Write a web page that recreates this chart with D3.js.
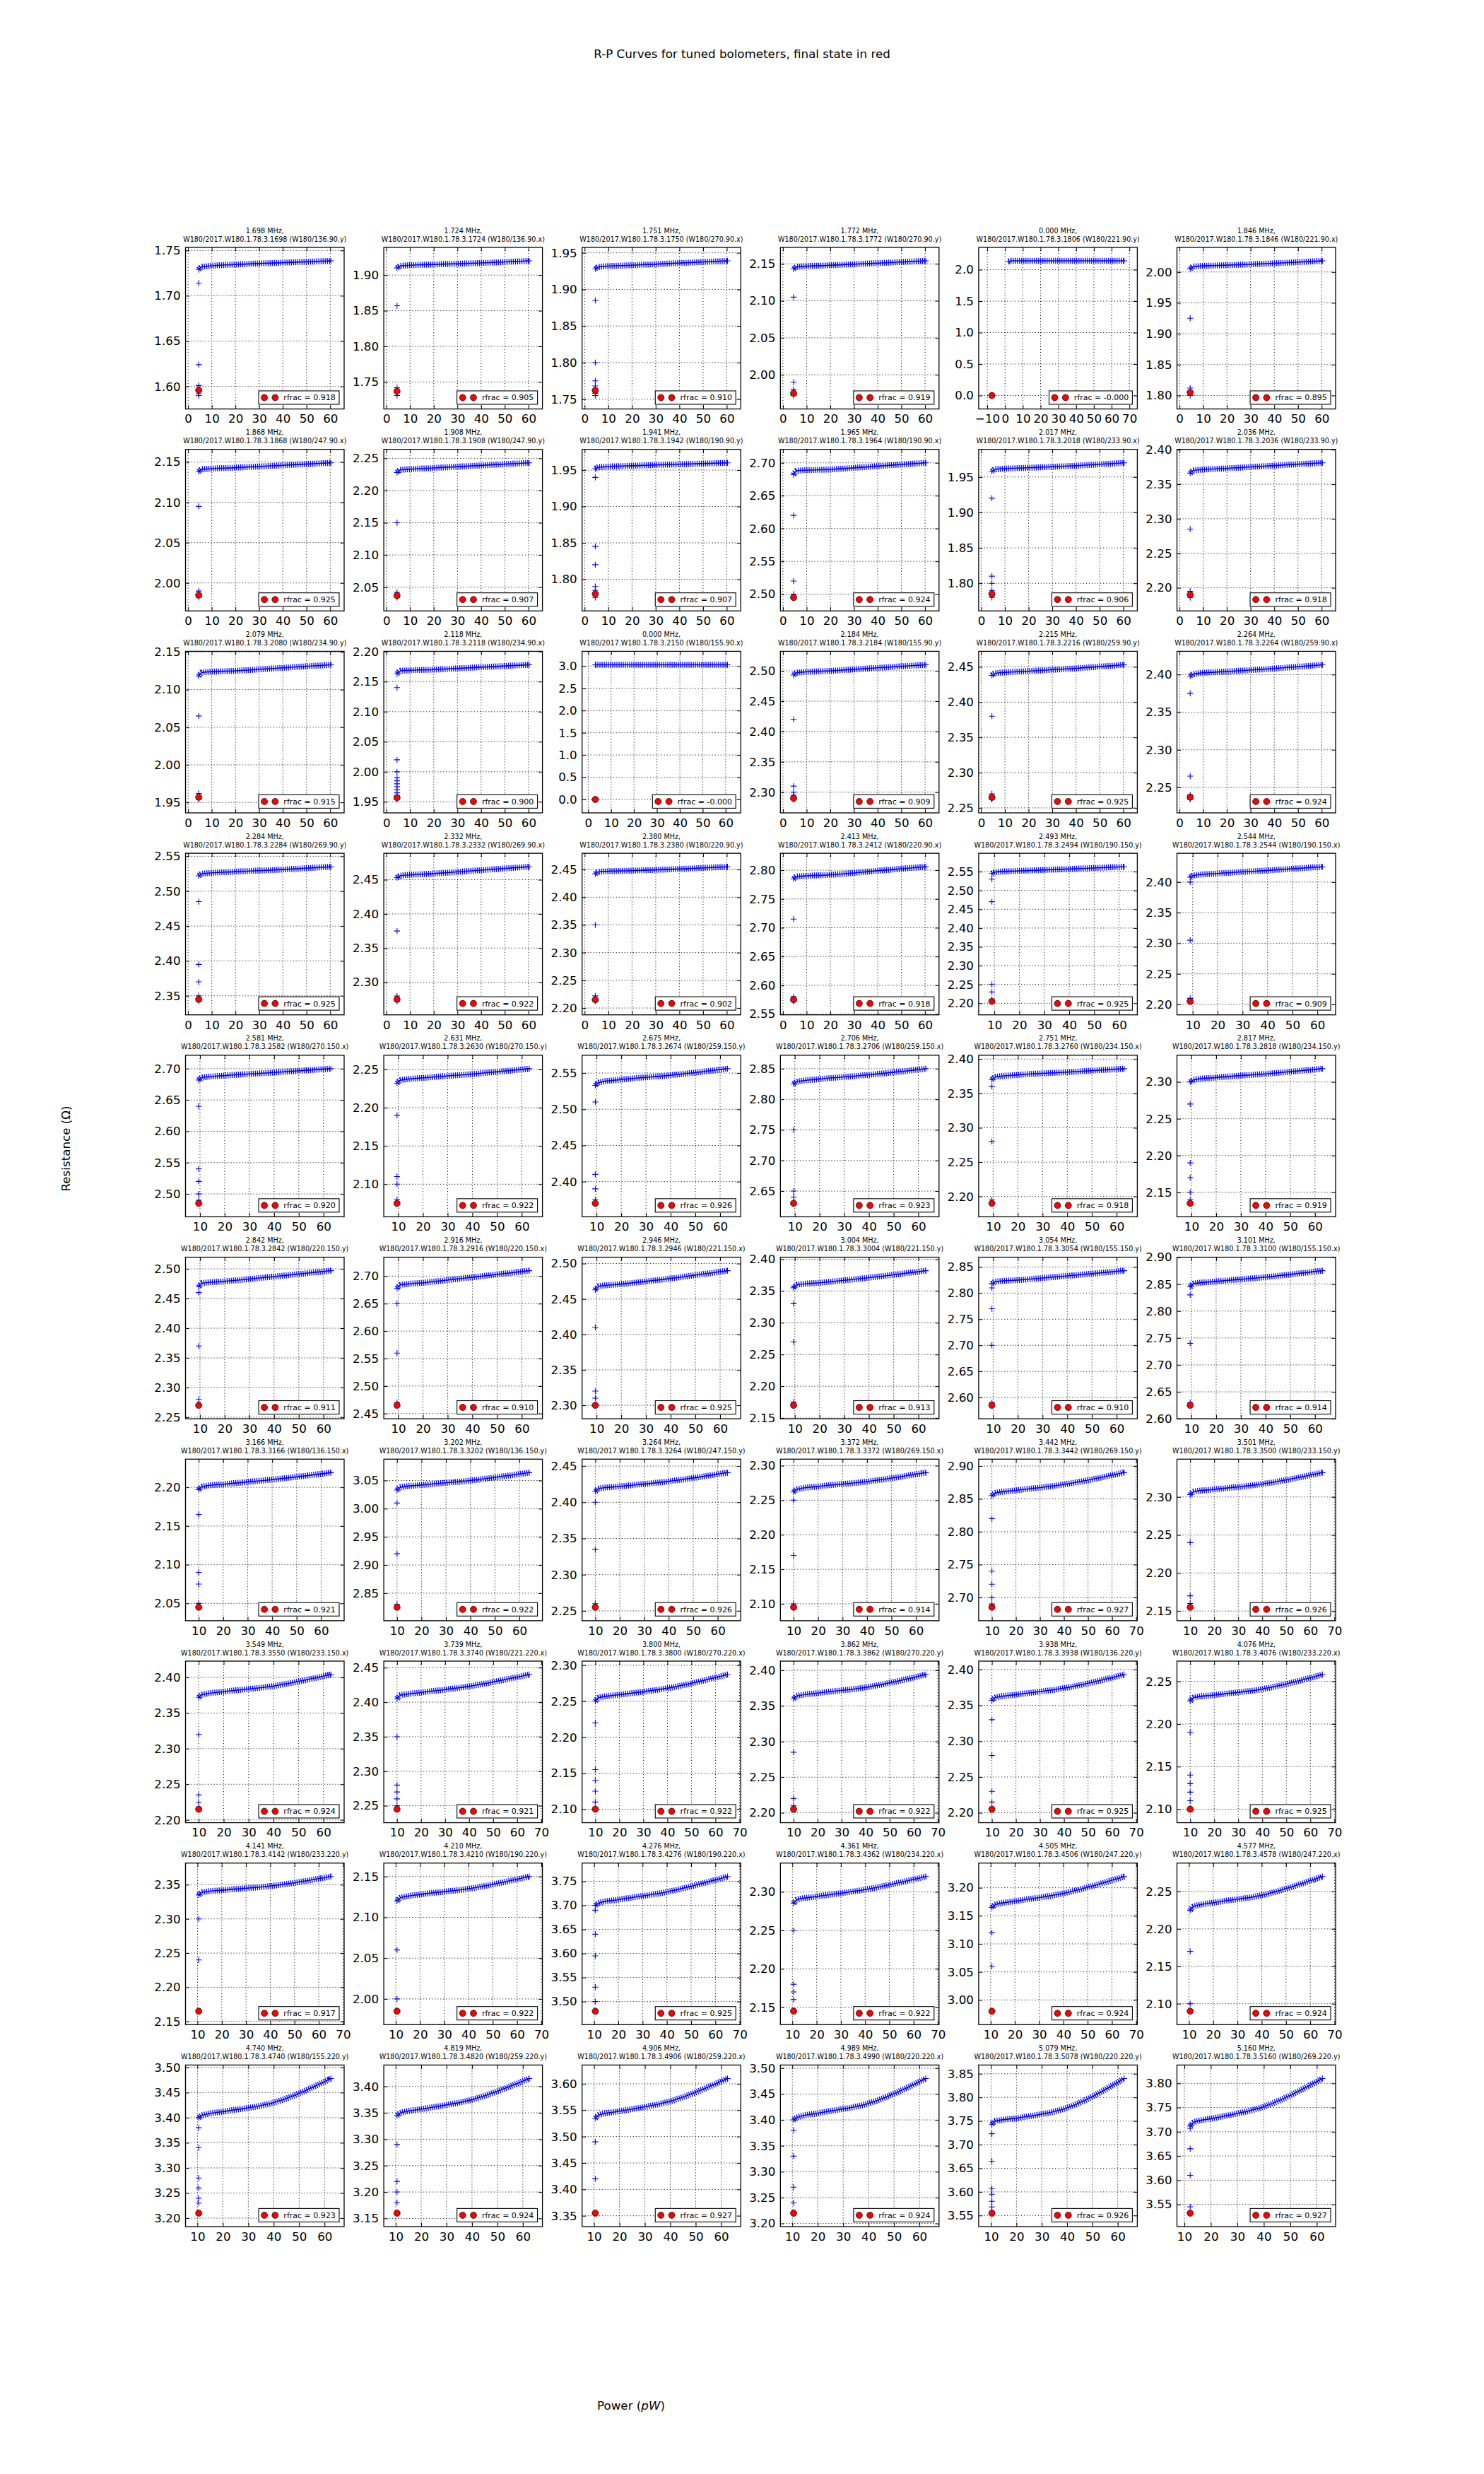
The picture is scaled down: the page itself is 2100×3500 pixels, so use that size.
<!DOCTYPE html>
<html><head><meta charset="utf-8">
<script src="https://cdn.jsdelivr.net/npm/d3@7"></script>
<style>
body{margin:0;background:#fff}
text{font-family:"DejaVu Sans",sans-serif}
</style></head>
<body><svg id="c" width="2100" height="3500" xmlns="http://www.w3.org/2000/svg"></svg>
<script>
// ---------------- data ----------------
const freqs = ["1.698","1.724","1.751","1.772","0.000","1.846",
"1.868","1.908","1.941","1.965","2.017","2.036",
"2.079","2.118","0.000","2.184","2.215","2.264",
"2.284","2.332","2.380","2.413","2.493","2.544",
"2.581","2.631","2.675","2.706","2.751","2.817",
"2.842","2.916","2.946","3.004","3.054","3.101",
"3.166","3.202","3.264","3.372","3.442","3.501",
"3.549","3.739","3.800","3.862","3.938","4.076",
"4.141","4.210","4.276","4.361","4.505","4.577",
"4.740","4.819","4.906","4.989","5.079","5.160"];

const chanIds = ["1698","1724","1750","1772","1806","1846",
"1868","1908","1942","1964","2018","2036",
"2080","2118","2150","2184","2216","2264",
"2284","2332","2380","2412","2494","2544",
"2582","2630","2674","2706","2760","2818",
"2842","2916","2946","3004","3054","3100",
"3166","3202","3264","3372","3442","3500",
"3550","3740","3800","3862","3938","4076",
"4142","4210","4276","4362","4506","4578",
"4740","4820","4906","4990","5078","5160"];

const pixels = ["136.90.y","136.90.x","270.90.x","270.90.y","221.90.y","221.90.x",
"247.90.x","247.90.y","190.90.y","190.90.x","233.90.x","233.90.y",
"234.90.y","234.90.x","155.90.x","155.90.y","259.90.y","259.90.x",
"269.90.y","269.90.x","220.90.y","220.90.x","190.150.y","190.150.x",
"270.150.x","270.150.y","259.150.y","259.150.x","234.150.x","234.150.y",
"220.150.y","220.150.x","221.150.x","221.150.y","155.150.y","155.150.x",
"136.150.x","136.150.y","247.150.y","269.150.x","269.150.y","233.150.y",
"233.150.x","221.220.x","270.220.x","270.220.y","136.220.y","233.220.x",
"233.220.y","190.220.y","190.220.x","234.220.x","247.220.y","247.220.x",
"155.220.y","259.220.y","259.220.x","220.220.x","220.220.y","269.220.y"];

const rfracs = ["0.918","0.905","0.910","0.919","-0.000","0.895",
"0.925","0.907","0.907","0.924","0.906","0.918",
"0.915","0.900","-0.000","0.909","0.925","0.924",
"0.925","0.922","0.902","0.918","0.925","0.909",
"0.920","0.922","0.926","0.923","0.918","0.919",
"0.911","0.910","0.925","0.913","0.910","0.914",
"0.921","0.922","0.926","0.914","0.927","0.926",
"0.924","0.921","0.922","0.922","0.925","0.925",
"0.917","0.922","0.925","0.922","0.924","0.924",
"0.923","0.924","0.927","0.924","0.926","0.927"];

// power (pW) where the transition points sit, and last power of the sweep
const pStart = [4.5,4.5,4.5,4.5,2.0,4.5,
4.5,4.5,4.5,4.5,4.5,4.5,
4.5,4.5,3.1,4.5,4.5,4.5,
4.5,4.5,4.5,4.5,9.0,9.0,
9.5,9.5,9.5,9.5,9.5,9.5,
9.5,9.5,9.5,9.5,9.5,9.5,
10,10,10,10,10,10,
10,10,10,10,10,10,
10.5,10.5,10.5,10.5,10.5,10.5,
10.5,10.5,10.5,10.5,10.3,12.2];
const pEnd = [60.3,60.3,60.3,60.3,67,60.3,
60.3,60.3,60.3,60.3,60.3,60.3,
60.3,60.3,60.8,60.3,60.3,60.3,
60.3,60.3,60.3,60.3,62,62,
63,63,63,63,63,63,
63,63,63,63,63,63,
64,64,64,64,65,65,
63,65,65,65,65,65,
65,65,65,65,65,65,
62.5,62.5,62.5,62.5,62.5,62.1];

// power of the final-state (red) point
const redP = [4.5,4.5,4.5,4.5,-7.4,4.5,
4.5,4.5,4.5,4.5,4.5,4.5,
4.5,4.5,3.1,4.5,4.5,4.5,
4.5,4.5,4.5,4.5,9.0,9.0,
9.5,9.5,9.5,9.5,9.5,9.5,
9.5,9.5,9.5,9.5,9.5,9.5,
10,10,10,10,10,10,
10,10,10,10,10,10,
10.5,10.5,10.5,10.5,10.5,10.5,
10.5,10.5,10.5,10.5,10.3,12.2];

// resistance of the final-state (red) point
const redR = [1.596,1.737,1.762,1.975,0.0,1.805,
1.985,2.037,1.780,2.495,1.785,2.190,
1.957,1.957,0.0,2.290,2.265,2.237,
2.345,2.275,2.215,2.575,2.205,2.205,
2.485,2.075,2.370,2.630,2.190,2.135,
2.270,2.465,2.300,2.170,2.585,2.625,
2.045,2.825,2.255,2.095,2.685,2.155,
2.215,2.245,2.100,2.205,2.205,2.100,
2.165,1.985,3.480,2.145,2.980,2.090,
3.210,3.160,3.355,3.220,3.555,3.532];

// sparse points in the transition (at pStart)
const lowR = [
[1.714,1.624,1.601,1.594,1.592,1.590],[1.857,1.742,1.735,1.731],[1.885,1.800,1.775,1.768,1.758,1.755],
[2.105,1.990,1.980,1.972],[],[1.925,1.812,1.800],
[2.095,1.990,1.982],[2.150,2.042,2.034],[1.940,1.845,1.820,1.790,1.785,1.775],
[2.620,2.520,2.500],[1.920,1.810,1.800,1.790,1.780],[2.285,2.195,2.186],
[2.065,1.962,1.954],[2.140,2.020,2.000,1.990,1.985,1.980,1.975,1.970,1.965,1.960,1.954],[],
[2.420,2.310,2.300,2.295,2.288],[2.380,2.270,2.262],[2.375,2.265,2.240,2.234],
[2.485,2.395,2.370,2.350,2.342],[2.375,2.280,2.272],[2.350,2.222,2.212],
[2.715,2.580,2.572],[2.530,2.470,2.250,2.230,2.210],[2.400,2.305,2.210],
[2.640,2.540,2.520,2.500,2.490],[2.190,2.110,2.100,2.080],[2.510,2.410,2.390,2.375],
[2.750,2.650,2.640],[2.360,2.280,2.195],[2.270,2.190,2.170,2.150,2.140],
[2.460,2.370,2.280],[2.650,2.560,2.470],[2.410,2.320,2.310],
[2.330,2.270,2.175],[2.810,2.770,2.700,2.590],[2.830,2.740,2.630],
[2.165,2.090,2.075,2.050],[3.010,2.920,2.830],[2.400,2.335,2.260],
[2.250,2.170,2.100],[2.820,2.740,2.720,2.700,2.690],[2.240,2.170,2.160],
[2.320,2.235,2.225],[2.350,2.280,2.270,2.260,2.250],[2.220,2.155,2.140,2.125,2.110],
[2.285,2.220,2.210],[2.330,2.280,2.230,2.215],[2.190,2.140,2.130,2.120,2.110],
[2.300,2.240],[2.060,2.000],[3.690,3.640,3.595,3.530,3.500],
[2.250,2.180,2.170,2.160],[3.120,3.060],[2.170,2.100],
[3.380,3.340,3.280,3.260,3.240,3.230],[3.290,3.220,3.200,3.180],[3.490,3.420],
[3.380,3.330,3.270,3.240],[3.723,3.665,3.607,3.595,3.580,3.568],[3.707,3.665,3.610,3.545]];

// resistance along the normal branch, read at P = [pStart, pStart+1.5, 20, 40, pEnd]
const curveR = [
[1.729,1.732,1.7345,1.7365,1.7385],[1.910,1.913,1.915,1.917,1.920],[1.928,1.931,1.933,1.936,1.939],
[2.143,2.146,2.148,2.151,2.154],[2.130,2.140,2.140,2.140,2.140],[2.005,2.009,2.011,2.014,2.018],
[2.138,2.141,2.143,2.146,2.149],[2.228,2.232,2.235,2.239,2.243],[1.952,1.954,1.956,1.958,1.960],
[2.682,2.688,2.690,2.695,2.700],[1.958,1.961,1.963,1.966,1.970],[2.366,2.370,2.373,2.377,2.381],
[2.118,2.123,2.125,2.129,2.133],[2.163,2.168,2.170,2.174,2.178],[3.030,3.030,3.030,3.030,3.030],
[2.493,2.497,2.500,2.505,2.510],[2.438,2.441,2.444,2.448,2.453],[2.398,2.401,2.404,2.408,2.413],
[2.522,2.525,2.528,2.531,2.535],[2.453,2.456,2.459,2.464,2.469],[2.442,2.446,2.448,2.451,2.455],
[2.785,2.789,2.792,2.799,2.806],[2.545,2.549,2.552,2.557,2.563],[2.408,2.411,2.414,2.419,2.425],
[2.682,2.686,2.689,2.694,2.700],[2.232,2.236,2.239,2.244,2.251],[2.533,2.537,2.541,2.547,2.556],
[2.825,2.829,2.833,2.840,2.850],[2.370,2.374,2.377,2.381,2.386],[2.300,2.303,2.306,2.311,2.318],
[2.470,2.476,2.479,2.487,2.497],[2.678,2.684,2.688,2.698,2.710],[2.463,2.468,2.471,2.479,2.490],
[2.355,2.360,2.363,2.371,2.382],[2.818,2.822,2.825,2.833,2.843],[2.845,2.851,2.855,2.863,2.875],
[2.197,2.201,2.204,2.210,2.219],[3.033,3.038,3.042,3.050,3.064],[2.415,2.419,2.422,2.429,2.441],
[2.262,2.266,2.270,2.277,2.290],[2.855,2.859,2.863,2.872,2.890],[2.303,2.307,2.310,2.317,2.332],
[2.372,2.376,2.380,2.388,2.404],[2.405,2.410,2.414,2.423,2.440],[2.250,2.255,2.259,2.268,2.287],
[2.360,2.364,2.368,2.376,2.394],[2.357,2.361,2.365,2.374,2.393],[2.227,2.231,2.234,2.241,2.258],
[2.335,2.339,2.342,2.348,2.362],[2.120,2.124,2.128,2.135,2.150],[3.700,3.705,3.712,3.728,3.760],
[2.285,2.290,2.294,2.303,2.320],[3.165,3.170,3.176,3.190,3.220],[2.225,2.230,2.235,2.245,2.270],
[3.400,3.405,3.412,3.430,3.478],[3.345,3.350,3.357,3.375,3.415],[3.535,3.541,3.548,3.567,3.610],
[3.400,3.405,3.413,3.432,3.480],[3.743,3.750,3.756,3.778,3.840],[3.712,3.720,3.727,3.752,3.810]];

const titleText = "R-P Curves for tuned bolometers, final state in red";

// ---------------- layout ----------------
const W=2100, H=3500;
const L=262.5, R=1890, T=350, B=3150, NC=6, NR=10, WS=0.25, HS=0.25;
const aw=(R-L)/(NC+(NC-1)*WS), ah=(B-T)/(NR+(NR-1)*HS);
const FONT="DejaVu Sans";

// matplotlib-1.x style MaxNLocator(nbins=9, steps=[1,2,5,10])
function mplTicks(vmin,vmax,nbins=9){
  const dv=vmax-vmin;
  const scale=Math.pow(10,Math.floor(Math.log10(dv/nbins)));
  const raw=dv/nbins/scale;
  let step=10*scale;
  for(const s of [1,2,5,10]){
    if(s<raw-1e-9) continue;
    step=s*scale;
    const bmin=step*Math.floor(vmin/step+1e-9);
    const bmax=bmin+step*nbins;
    if(bmax>=vmax-1e-12) break;
  }
  const t=[];
  for(let k=Math.ceil(vmin/step-1e-9);k*step<=vmax+1e-9;k++) t.push(+(k*step).toFixed(10));
  const dec=Math.max(0,-Math.floor(Math.log10(step)+1e-9));
  return {ticks:t, fmt:v=>{const s=v.toFixed(dec); return (v<0? "\u2212"+s.slice(1):s);}};
}

const svg=d3.select("#c");
svg.append("rect").attr("width",W).attr("height",H).attr("fill","#fff");
svg.append("text").attr("x",1050).attr("y",82).attr("text-anchor","middle")
  .style("font-size","16.7px").style("font-family",FONT).text(titleText);

const plusPath="M-4.2,0H4.2M0,-4.2V4.2";
const defs=svg.append("defs");

freqs.forEach((f,i)=>{
  const r=Math.floor(i/NC), c=i%NC;
  const x0=L+c*aw*(1+WS), y0=T+r*ah*(1+HS);
  const cx=[pStart[i],pStart[i]+1.5,20,40,pEnd[i]];
  const cy=curveR[i];
  const allX=[...cx,redP[i]];
  const allY=[...cy,redR[i],...lowR[i]];
  const [xa,xb]=d3.extent(allX),[ya,yb]=d3.extent(allY);
  const mx=0.1*(xb-xa), my=0.1*(yb-ya);
  const xs=d3.scaleLinear().domain([xa-mx,xb+mx]).range([x0,x0+aw]);
  const ys=d3.scaleLinear().domain([ya-my,yb+my]).range([y0+ah,y0]);
  const xt=mplTicks(xa-mx,xb+mx), yt=mplTicks(ya-my,yb+my);

  const g=svg.append("g");
  // grid
  g.append("g").selectAll("line").data(xt.ticks).join("line")
    .attr("x1",d=>xs(d)).attr("x2",d=>xs(d)).attr("y1",y0).attr("y2",y0+ah)
    .attr("stroke","#000").attr("stroke-width",0.9).attr("stroke-dasharray","1.2,2.8");
  g.append("g").selectAll("line").data(yt.ticks).join("line")
    .attr("y1",d=>ys(d)).attr("y2",d=>ys(d)).attr("x1",x0).attr("x2",x0+aw)
    .attr("stroke","#000").attr("stroke-width",0.9).attr("stroke-dasharray","1.2,2.8");

  // data
  const cid="clip"+i;
  defs.append("clipPath").attr("id",cid).append("rect")
    .attr("x",x0).attr("y",y0).attr("width",aw).attr("height",ah);
  const dg=g.append("g").attr("clip-path",`url(#${cid})`);
  const pts=cx.map((x,k)=>[x,cy[k]]);
  const line=d3.line().x(d=>xs(d[0])).y(d=>ys(d[1])).curve(d3.curveMonotoneX);
  dg.append("path").attr("d",line(pts)).attr("fill","none")
    .attr("stroke","#0000ff").attr("stroke-width",1.6);
  dg.append("path").attr("d",line(pts)).attr("fill","none")
    .attr("stroke","#0000ff").attr("stroke-width",8.4).attr("stroke-dasharray","1.3,1.7");
  dg.selectAll(".e").data([pts[0],pts[pts.length-1]]).join("path")
    .attr("transform",d=>`translate(${xs(d[0])},${ys(d[1])})`).attr("d",plusPath)
    .attr("stroke","#0000ff").attr("stroke-width",1.1).attr("fill","none");
  dg.selectAll(".lo").data(lowR[i]).join("path")
    .attr("transform",d=>`translate(${xs(pStart[i])},${ys(d)})`).attr("d",plusPath)
    .attr("stroke","#0000ff").attr("stroke-width",1.1).attr("fill","none");
  dg.append("circle").attr("cx",xs(redP[i])).attr("cy",ys(redR[i])).attr("r",4.5)
    .attr("fill","#ff0000").attr("stroke","#000").attr("stroke-width",0.7);

  // axes (inward ticks on all sides)
  const styleAx=sel=>{sel.select(".domain").remove();
    sel.selectAll(".tick line").attr("stroke","#000").attr("stroke-width",1);
    sel.attr("font-family",FONT).attr("font-size",16.7);
    sel.selectAll("text").attr("fill","#000");};
  g.append("g").attr("transform",`translate(0,${y0+ah})`)
    .call(d3.axisBottom(xs).tickValues(xt.ticks).tickFormat(xt.fmt).tickSizeInner(-5.5).tickSizeOuter(0).tickPadding(8)).call(styleAx);
  g.append("g").attr("transform",`translate(0,${y0})`)
    .call(d3.axisTop(xs).tickValues(xt.ticks).tickFormat("").tickSizeInner(-5.5).tickSizeOuter(0)).call(styleAx);
  g.append("g").attr("transform",`translate(${x0},0)`)
    .call(d3.axisLeft(ys).tickValues(yt.ticks).tickFormat(yt.fmt).tickSizeInner(-5.5).tickSizeOuter(0).tickPadding(7)).call(styleAx);
  g.append("g").attr("transform",`translate(${x0+aw},0)`)
    .call(d3.axisRight(ys).tickValues(yt.ticks).tickFormat("").tickSizeInner(-5.5).tickSizeOuter(0)).call(styleAx);

  g.append("rect").attr("x",x0).attr("y",y0).attr("width",aw).attr("height",ah)
    .attr("fill","none").attr("stroke","#000").attr("stroke-width",1.3);

  // titles
  const tg=g.append("g").attr("text-anchor","middle").style("font-size","9.6px").style("font-family",FONT);
  tg.append("text").attr("x",x0+aw/2).attr("y",y0-20.5).text(f+" MHz,");
  tg.append("text").attr("x",x0+aw/2).attr("y",y0-8.4)
    .text("W180/2017.W180.1.78.3."+chanIds[i]+" (W180/"+pixels[i]+")");

  // legend
  const lg=g.append("g");
  const lt=lg.append("text").style("font-size","11px").style("font-family",FONT).text("rfrac = "+rfracs[i]);
  const tw=lt.node().getComputedTextLength();
  const bw=tw+40.5, bh=19;
  const bx=x0+aw-7-bw, by=y0+ah-6.6-bh;
  lg.insert("rect","text").attr("x",bx).attr("y",by).attr("width",bw).attr("height",bh)
    .attr("fill","#fff").attr("stroke","#000").attr("stroke-width",1.1);
  [8,23.3].forEach(o=>lg.append("circle").attr("cx",bx+o).attr("cy",by+bh/2).attr("r",4.5)
    .attr("fill","#ff0000").attr("stroke","#000").attr("stroke-width",0.7));
  lt.attr("x",bx+35.3).attr("y",by+bh/2+4);
});

// axis labels
svg.append("text").attr("transform","translate(99,1625) rotate(-90)").attr("text-anchor","middle")
  .style("font-size","16.7px").style("font-family",FONT).text("Resistance (\u03A9)");
const xl=svg.append("text").attr("x",893).attr("y",3409).attr("text-anchor","middle")
  .style("font-size","16.7px").style("font-family",FONT);
xl.append("tspan").text("Power (");
xl.append("tspan").style("font-style","italic").text("pW");
xl.append("tspan").text(")");
</script>
</body></html>
